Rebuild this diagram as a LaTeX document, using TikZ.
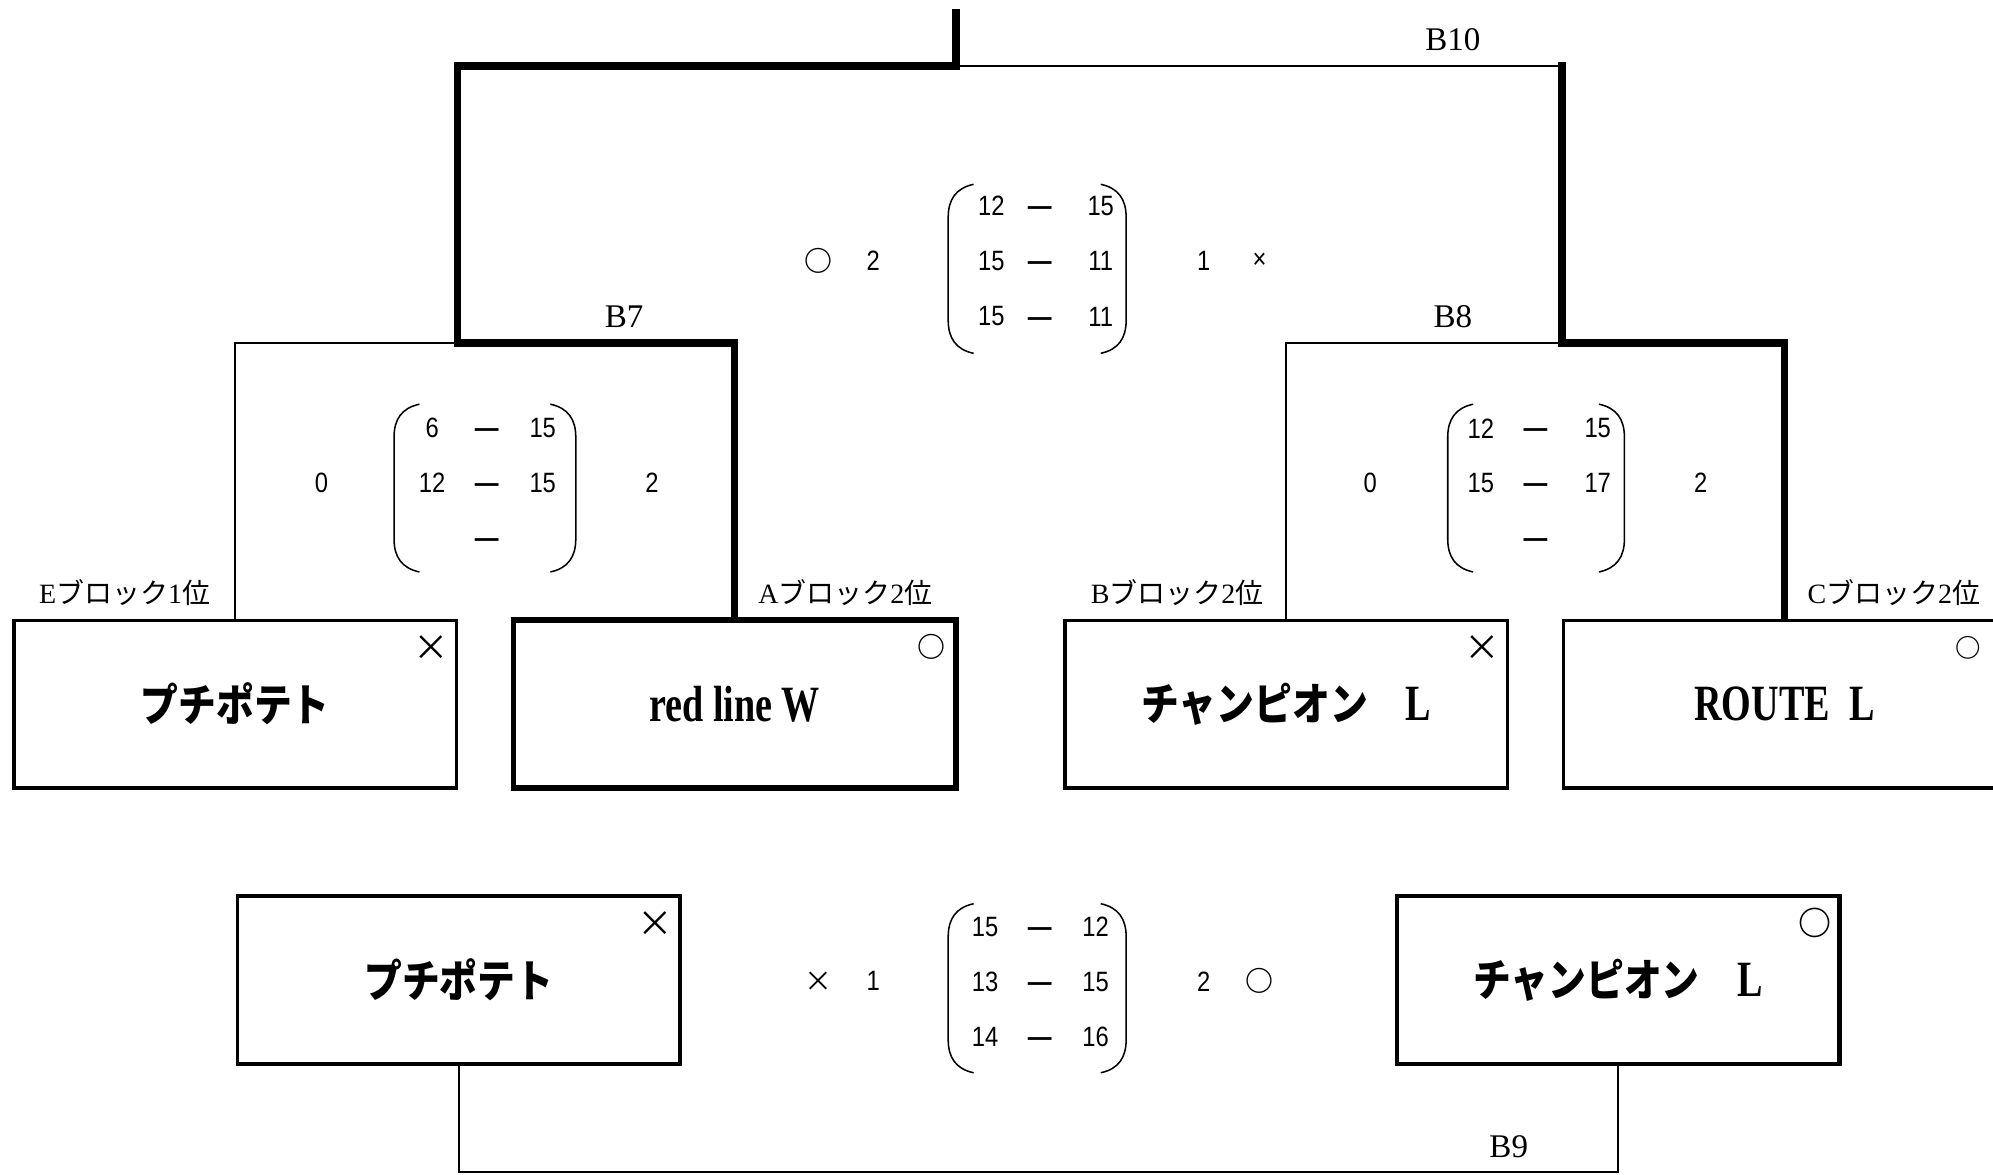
\documentclass[tikz,border=0pt]{standalone}
\usepackage{fontspec}
\setmainfont{Liberation Serif}
\newfontfamily\jpfont{Noto Sans CJK JP}
\newfontfamily\jpname[FakeStretch=0.85]{Noto Sans CJK JP}
\newfontfamily\namefont[FakeStretch=0.75]{Liberation Serif}
\newfontfamily\scorefont[FakeStretch=0.85]{Liberation Sans}
\usepackage{tikz}

\newcommand{\blockname}[2]{#1{\jpfont ブロック}#2{\jpfont 位}}
\newcommand{\latname}[1]{{\namefont\fontsize{20}{22}\selectfont #1}}

\tikzset{
  bracket/.style={line width=0.8pt},
  winline/.style={line width=2.9pt, line cap=rect},
  team/.style={draw, line width=1.3pt, minimum width=174pt, minimum height=66pt, inner sep=0pt,
    font=\jpname\bfseries\fontsize{17.5}{20}\selectfont},
  winteam/.style={team, line width=2.2pt},
  score/.style={font=\scorefont\fontsize{11}{13}\selectfont, inner sep=0pt},
  scoredash/.style={score, font=\scorefont\bfseries\fontsize{11}{13}\selectfont, yshift=-2pt},
  resultmark/.style={font=\jpfont\fontsize{11}{13}\selectfont, inner sep=0pt},
  roundlabel/.style={font=\fontsize{13}{15}\selectfont, inner sep=0pt},
  blocklabel/.style={font=\fontsize{11}{13}\selectfont, inner sep=0pt},
  paren/.style={line width=0.6pt},
}

\begin{document}
\begin{tikzpicture}[x=0.5pt, y=-0.5pt]
  \useasboundingbox (0,0) rectangle (1568,924);

  % teams of the final round
  \node[team] (potato) at (185,554) {プチポテト};
  \node[winteam] (redline) at (578,554) {\latname{red line W}};
  \node[team] (champ) at (1012,554) {チャンピオン　\latname{L}};
  \node[team] (route) at (1404,554) {\latname{ROUTE}{\fontsize{9}{9}\selectfont 　}\latname{L}};

  % match for third place
  \node[team] (potato9) at (361,771) {プチポテト};
  \node[team, line width=1.8pt] (champ9) at (1273,771) {チャンピオン　\latname{L}};

  % win / lose marks on the boxes
  \node[resultmark, font=\jpfont\fontsize{14}{14}\selectfont] (potatoX) at ([shift={(-21,23)}]potato.north east) {×};
  \node[resultmark, font=\jpfont\bfseries\fontsize{11}{11}\selectfont] (redlineO) at ([shift={(-21,23)}]redline.north east) {○};
  \node[resultmark, font=\jpfont\fontsize{14}{14}\selectfont] (champX) at ([shift={(-21,23)}]champ.north east) {×};
  \node[resultmark, font=\jpfont\bfseries\fontsize{10}{10}\selectfont] (routeO) at ([shift={(-31,23)}]route.north east) {○};
  \node[resultmark, font=\jpfont\fontsize{14}{14}\selectfont] (potato9X) at ([shift={(-21,23)}]potato9.north east) {×};
  \node[resultmark, font=\jpfont\bfseries\fontsize{13}{13}\selectfont] (champ9O) at ([shift={(-21,23)}]champ9.north east) {○};

  % block labels
  \node[blocklabel] (labE) at (98,466) {\blockname{E}{1}};
  \node[blocklabel] (labA) at (665,466) {\blockname{A}{2}};
  \node[blocklabel] (labB) at (926,466) {\blockname{B}{2}};
  \node[blocklabel] (labC) at (1490,466) {\blockname{C}{2}};

  % bracket
  \coordinate (b7) at (360,270);
  \coordinate (b8) at (1229,270);
  \coordinate (b10l) at (360,52);
  \coordinate (b10m) at (752,52);
  \coordinate (b10r) at (1229,52);
  \coordinate (final) at (752,10);
  \coordinate (b9) at (817,922);
  \draw[bracket] (potato.north) |- (b7);
  \draw[winline] (redline.north) |- (b7);
  \draw[bracket] (champ.north) |- (b8);
  \draw[winline] (route.north) |- (b8);
  \draw[winline] (b7) -- (b10l) -- (b10m) -- (final);
  \draw[winline] (b8) -- (b10r);
  \draw[bracket] (b10r) -- (b10m);
  \draw[bracket] (potato9.south) |- (b9) -| (champ9.south);

  \node[roundlabel] (rB10) at (1143,31) {B10};
  \node[roundlabel] (rB7) at (491,249) {B7};
  \node[roundlabel] (rB8) at (1143,249) {B8};
  \node[roundlabel] (rB9) at (1187,902) {B9};

  % parentheses round the set scores
  \foreach \xl/\xr/\yt/\yb in {746/886/145/278, 310/453/318/450, 1139/1278/318/450, 746/886/711/844} {
    \draw[paren] (\xl+20,\yt) .. controls (\xl+6,\yt+3) and (\xl,\yt+12) .. (\xl,\yt+26)
      -- (\xl,\yb-26) .. controls (\xl,\yb-12) and (\xl+6,\yb-3) .. (\xl+20,\yb);
    \draw[paren] (\xr-20,\yt) .. controls (\xr-6,\yt+3) and (\xr,\yt+12) .. (\xr,\yt+26)
      -- (\xr,\yb-26) .. controls (\xr,\yb-12) and (\xr-6,\yb-3) .. (\xr-20,\yb);
  }

  % B10 scores
  \node[resultmark, font=\jpfont\bfseries\fontsize{11}{13}\selectfont] (b10win) at (644,205) {○};
  \node[score] (b10a) at (687,205) {2};
  \node[score] (b10b) at (947,205) {1};
  \node[score] (b10lose) at (991,205) {×};
  \foreach \l/\r [count=\i] in {12/15, 15/11, 15/11} {
    \node[score] (b10l\i) at (780,{118.5+43.5*\i}) {\l};
    \node[scoredash] (b10d\i) at (818,{118.5+43.5*\i}) {—};
    \node[score] (b10r\i) at (866,{118.5+43.5*\i}) {\r};
  }

  % B7 scores
  \node[score] (b7a) at (253,380) {0};
  \node[score] (b7b) at (513,380) {2};
  \foreach \l/\r [count=\i] in {6/15, 12/15} {
    \node[score] (b7l\i) at (340,{294+43*\i}) {\l};
    \node[score] (b7r\i) at (427,{294+43*\i}) {\r};
  }
  \foreach \i in {1,2,3}
    \node[scoredash] (b7d\i) at (383,{294+43*\i}) {—};

  % B8 scores
  \node[score] (b8a) at (1078,380) {0};
  \node[score] (b8b) at (1338,380) {2};
  \foreach \l/\r [count=\i] in {12/15, 15/17} {
    \node[score] (b8l\i) at (1165,{294+43*\i}) {\l};
    \node[score] (b8r\i) at (1257,{294+43*\i}) {\r};
  }
  \foreach \i in {1,2,3}
    \node[scoredash] (b8d\i) at (1208,{294+43*\i}) {—};

  % B9 scores
  \node[resultmark] (b9lose) at (644,772) {×};
  \node[score] (b9a) at (687,772) {1};
  \node[score] (b9b) at (947,772) {2};
  \node[resultmark, font=\jpfont\bfseries\fontsize{11}{13}\selectfont] (b9win) at (991,772) {○};
  \foreach \l/\r [count=\i] in {15/12, 13/15, 14/16} {
    \node[score] (b9l\i) at (775,{685.5+43.5*\i}) {\l};
    \node[scoredash] (b9d\i) at (818,{685.5+43.5*\i}) {—};
    \node[score] (b9r\i) at (862,{685.5+43.5*\i}) {\r};
  }
\end{tikzpicture}
\end{document}
